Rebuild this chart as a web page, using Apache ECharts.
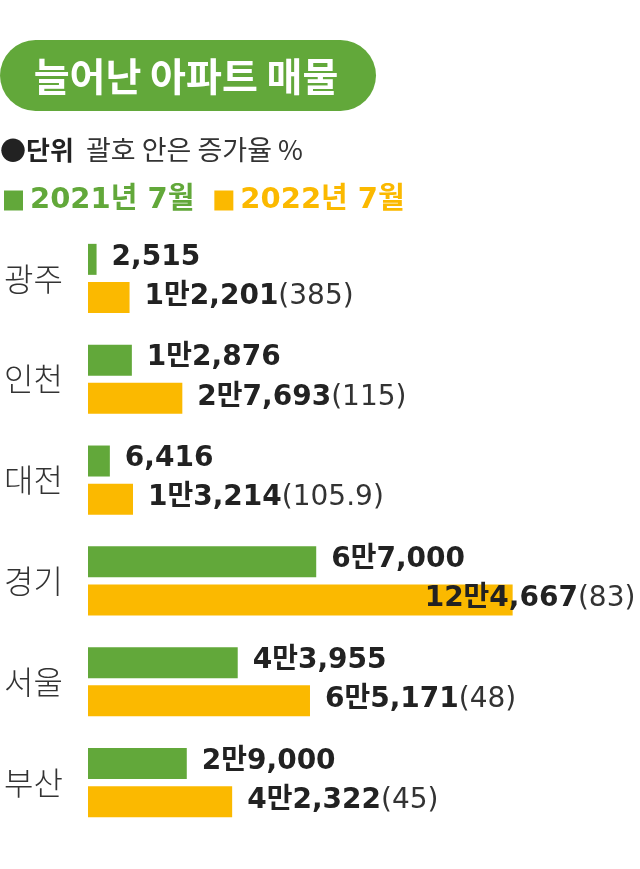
<!DOCTYPE html>
<html><head><meta charset="utf-8">
<script src="https://cdn.jsdelivr.net/npm/echarts@6/dist/echarts.min.js"></script>
<style>html,body{margin:0;padding:0;background:#fff}#c{width:640px;height:869px}</style>
</head><body><div id="c"></div>
<script>
const categories = ['광주', '인천', '대전', '경기', '서울', '부산'];
const values2021 = [2515, 12876, 6416, 67000, 43955, 29000];
const values2022 = [12201, 27693, 13214, 124667, 65171, 42322];
const growthRates = ['385', '115', '105.9', '83', '48', '45'];
const seriesNames = ['2021년 7월', '2022년 7월'];

const GREEN = '#62a83a', ORANGE = '#fbb900';
const NUMFONT = "'DejaVu Sans', 'Noto Sans CJK KR', sans-serif";
const KFONT = "'Noto Sans CJK KR', sans-serif";

function fmt(v) {
  const man = Math.floor(v / 10000), rest = v % 10000;
  if (man > 0) {
    const s = String(rest).padStart(4, '0');
    return man + '만' + s.slice(0, 1) + ',' + s.slice(1);
  }
  return rest.toLocaleString('en-US');
}

const rich = {
  b: { fontFamily: NUMFONT, fontWeight: 'bold', fontSize: 28, color: '#222' },
  r: { fontFamily: NUMFONT, fontWeight: 'normal', fontSize: 28, color: '#333' }
};

const chart = echarts.init(document.getElementById('c'), null, { renderer: 'canvas' });
chart.setOption({
  animation: false,
  backgroundColor: '#fff',
  graphic: [
    { type: 'rect', shape: { x: 0, y: 40, width: 376, height: 71, r: 35.5 }, style: { fill: GREEN } },
    { type: 'text', x: 186, y: 76, style: { text: '늘어난 아파트 매물', fill: '#fff', font: "bold 39px 'Noto Sans CJK KR'", textAlign: 'center', textVerticalAlign: 'middle' } },
    { type: 'text', x: 0, y: 150, style: { text: '●단위', fill: '#222', font: "bold 26px 'Noto Sans CJK KR'", textVerticalAlign: 'middle' } },
    { type: 'text', x: 86, y: 150, style: { text: '괄호 안은 증가율 %', fill: '#333', font: "27px 'Noto Sans CJK KR'", textVerticalAlign: 'middle' } }
  ],
  legend: {
    left: -1, top: 181, icon: 'rect', itemWidth: 19, itemHeight: 20, itemGap: 20,
    selectedMode: false,
    textStyle: { fontFamily: NUMFONT, fontWeight: 'bold', fontSize: 29, padding: [0, 0, 0, 2] },
    data: [
      { name: seriesNames[0], textStyle: { color: GREEN } },
      { name: seriesNames[1], textStyle: { color: ORANGE } }
    ]
  },
  grid: { left: 88, right: 7, top: 228, bottom: 36, containLabel: false },
  xAxis: { type: 'value', min: 0, max: 160000, show: false },
  yAxis: {
    type: 'category', data: categories, inverse: true,
    axisLine: { show: false }, axisTick: { show: false },
    axisLabel: { margin: 25, fontFamily: KFONT, fontWeight: 300, fontSize: 32, color: '#333', padding: [14, 0, 0, 0] }
  },
  series: [
    {
      name: seriesNames[0], type: 'bar', data: values2021, barWidth: 31, barGap: '23%',
      itemStyle: { color: GREEN },
      label: { show: true, position: 'right', distance: 15, offset: [0, -2],
        formatter: p => '{b|' + fmt(p.value) + '}', rich }
    },
    {
      name: seriesNames[1], type: 'bar', barWidth: 31,
      data: values2022.map((v, i) => i === 3 ? { value: v, label: { offset: [-103, -1] } } : v),
      itemStyle: { color: ORANGE },
      label: { show: true, position: 'right', distance: 15, offset: [0, -1],
        formatter: p => '{b|' + fmt(p.value) + '}{r|(' + growthRates[p.dataIndex] + ')}', rich }
    }
  ]
});
</script></body></html>
